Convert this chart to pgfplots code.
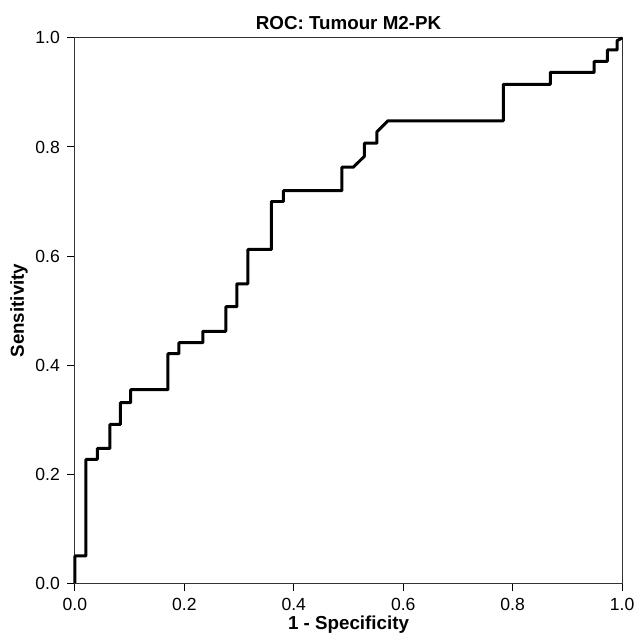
\documentclass[border=0pt]{standalone}
\usepackage{fontspec}
\setmainfont{Liberation Sans}
\usepackage{pgfplots}
\pgfplotsset{compat=1.18}
\begin{document}
\begin{tikzpicture}
  \begin{axis}[
    width=274pt,
    height=273pt,
    scale only axis,
    xmin=0, xmax=1,
    ymin=0, ymax=1,
    xtick={0,0.2,0.4,0.6,0.8,1},
    ytick={0,0.2,0.4,0.6,0.8,1},
    xtick pos=bottom,
    ytick pos=left,
    tick align=outside,
    major tick length=4pt,
    tick style={black, line width=0.5pt},
    axis line style={line width=0.5pt, black!80},
    /pgf/number format/assume math mode=true,
    /pgf/number format/fixed,
    /pgf/number format/fixed zerofill,
    /pgf/number format/precision=1,
    ticklabel style={font=\fontsize{8.8}{10}\selectfont},
    title={\bfseries ROC: Tumour M2-PK},
    title style={font=\fontsize{9.4}{11}\selectfont, inner sep=1pt, yshift=-3pt},
    xlabel={\bfseries 1 - Specificity},
    ylabel={\bfseries Sensitivity},
    label style={font=\fontsize{9.4}{11}\selectfont},
    xlabel style={inner sep=1pt, yshift=2pt},
    ylabel style={yshift=-3pt},
    clip=false,
  ]
    \addplot[black, line width=1.5pt, line join=round] coordinates {
      (0,0) (0,0.05) (0.02,0.05) (0.02,0.227) (0.041,0.227) (0.041,0.247)
      (0.064,0.247) (0.064,0.291) (0.083,0.291) (0.083,0.331) (0.102,0.331)
      (0.102,0.355) (0.170,0.355) (0.170,0.421) (0.190,0.421) (0.190,0.441)
      (0.234,0.441) (0.234,0.462) (0.276,0.462) (0.276,0.507) (0.296,0.507)
      (0.296,0.549) (0.316,0.549) (0.316,0.612) (0.359,0.612) (0.359,0.700)
      (0.381,0.700) (0.381,0.720) (0.488,0.720) (0.488,0.763) (0.509,0.763)
      (0.529,0.783) (0.529,0.807) (0.552,0.807) (0.552,0.828) (0.572,0.848)
      (0.783,0.848) (0.783,0.915) (0.869,0.915) (0.869,0.937) (0.949,0.937)
      (0.949,0.957) (0.967,0.957) (0.973,0.957) (0.973,0.978) (0.991,0.978)
      (0.991,0.995) (1,1)
    };
    \path (rel axis cs:-0.1369,-0.1044) rectangle (rel axis cs:1.0292,1.0696);
  \end{axis}
\end{tikzpicture}
\end{document}
